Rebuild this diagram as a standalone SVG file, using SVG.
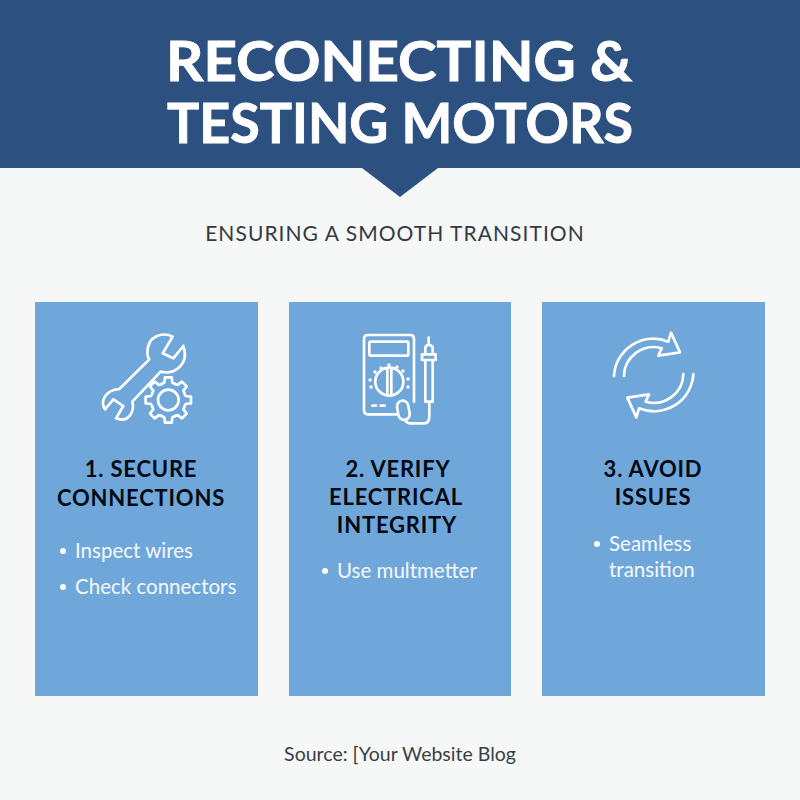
<svg xmlns="http://www.w3.org/2000/svg" xmlns:xlink="http://www.w3.org/1999/xlink" width="800" height="800" viewBox="0 0 800 800">
<style>
text{font-family:Lato,"Liberation Sans",sans-serif}
.title{font-size:56px;font-weight:700;fill:#fff;stroke:#fff;stroke-width:.9px;text-anchor:middle}
.sub{font-size:21px;fill:#333a40;text-anchor:middle;letter-spacing:1.05px}
.card{fill:#70a7da}
.head{font-size:22px;font-weight:700;fill:#050a12;text-anchor:middle;letter-spacing:.8px}
.body{font-size:20.5px;fill:#f4f8fc}
.src{font-size:19.5px;fill:#3a3f44;text-anchor:middle}
.icon{fill:none;stroke:#fff;stroke-width:8;stroke-linecap:round;stroke-linejoin:round}
.dot{fill:#fff}
</style>
<defs><polyline id="t" points="-20,-48 -12,-52 -10,-68 10,-68 12,-52 20,-48"/></defs>
<rect width="800" height="800" fill="#f6f7f7"/>
<g id="header">
<path d="M0 0H800V168H438L400 197L362 168H0Z" fill="#2c5080"/>
<text class="title" x="399" y="81" textLength="466" lengthAdjust="spacingAndGlyphs">RECONECTING &amp;</text>
<text class="title" x="400" y="143" textLength="466" lengthAdjust="spacingAndGlyphs">TESTING MOTORS</text>
</g>
<text class="sub" x="395" y="241">ENSURING A SMOOTH TRANSITION</text>
<g id="card1">
<rect class="card" x="35" y="302" width="223" height="394"/>
<g class="icon" transform="translate(90 320) scale(.3333)">
<path d="M248 50C225 38 172 40 172 100Q172 110 178 118L88 207C45 210 30 245 45 268L70 238L100 258L78 295C115 310 135 275 127 245L212 155C250 165 300 135 280 78L250 115L218 100Z"/>
<circle cx="235" cy="240" r="31"/>
<g transform="translate(235 240)">
<use xlink:href="#t"/><use xlink:href="#t" transform="rotate(45)"/><use xlink:href="#t" transform="rotate(90)"/><use xlink:href="#t" transform="rotate(135)"/><use xlink:href="#t" transform="rotate(180)"/><use xlink:href="#t" transform="rotate(225)"/><use xlink:href="#t" transform="rotate(270)"/><use xlink:href="#t" transform="rotate(315)"/>
</g>
</g>
<text class="head" x="141" y="477">1. SECURE</text>
<text class="head" x="141" y="506">CONNECTIONS</text>
<circle class="dot" cx="63" cy="551" r="3"/>
<text class="body" x="75" y="558">Inspect wires</text>
<circle class="dot" cx="63" cy="587" r="3"/>
<text class="body" x="75" y="594">Check connectors</text>
</g>
<g id="card2">
<rect class="card" x="289" y="302" width="222" height="394"/>
<g class="icon" transform="translate(350 325) scale(.3333)">
<path d="M192 230V42Q192 30 180 30H54Q42 30 42 42V256Q42 268 54 268H143"/>
<rect x="58" y="50" width="117" height="42" rx="4"/>
<circle cx="118" cy="170" r="42"/>
<path d="M112 130V210M124 130V210"/>
<path d="M67 242H78M92 242H104"/>
<rect x="143" y="227" width="34" height="58" rx="17" transform="rotate(-10 160 255)"/>
<path d="M165 284Q170 295 182 295H222Q238 295 238 272V232"/>
<path d="M226 230V105H248V230ZM216 105V88H257V105ZM226 88V70Q226 60 236 60Q248 60 248 70V88M236 60V38"/>
</g>
<g class="dot">
<circle cx="389" cy="365" r="1.7"/><circle cx="381" cy="368" r="1.7"/><circle cx="397" cy="367" r="1.7"/><circle cx="370" cy="380" r="1.7"/><circle cx="371" cy="387" r="1.7"/><circle cx="375" cy="372" r="1.7"/><circle cx="408" cy="379" r="1.7"/><circle cx="408" cy="387" r="1.7"/><circle cx="403" cy="371" r="1.7"/>
</g>
<text class="head" x="398" y="477">2. VERIFY</text>
<text class="head" x="396" y="505">ELECTRICAL</text>
<text class="head" x="397" y="533">INTEGRITY</text>
<circle class="dot" cx="325" cy="571" r="3"/>
<text class="body" x="337" y="578">Use multmetter</text>
</g>
<g id="card3">
<rect class="card" x="542" y="302" width="223" height="394"/>
<g class="icon" transform="translate(600 320) scale(.3333)">
<path d="M42 168A118 118 0 0 1 205 65L213 38L240 97L175 107L185 85A88 88 0 0 0 72 168"/>
<path transform="rotate(180 161 165)" d="M42 168A118 118 0 0 1 205 65L213 38L240 97L175 107L185 85A88 88 0 0 0 72 168"/>
</g>
<text class="head" x="653" y="477">3. AVOID</text>
<text class="head" x="653" y="505">ISSUES</text>
<circle class="dot" cx="597" cy="544" r="3"/>
<text class="body" x="609" y="551">Seamless</text>
<text class="body" x="609" y="577">transition</text>
</g>
<text class="src" x="400" y="761">Source: [Your Website Blog</text>
</svg>
